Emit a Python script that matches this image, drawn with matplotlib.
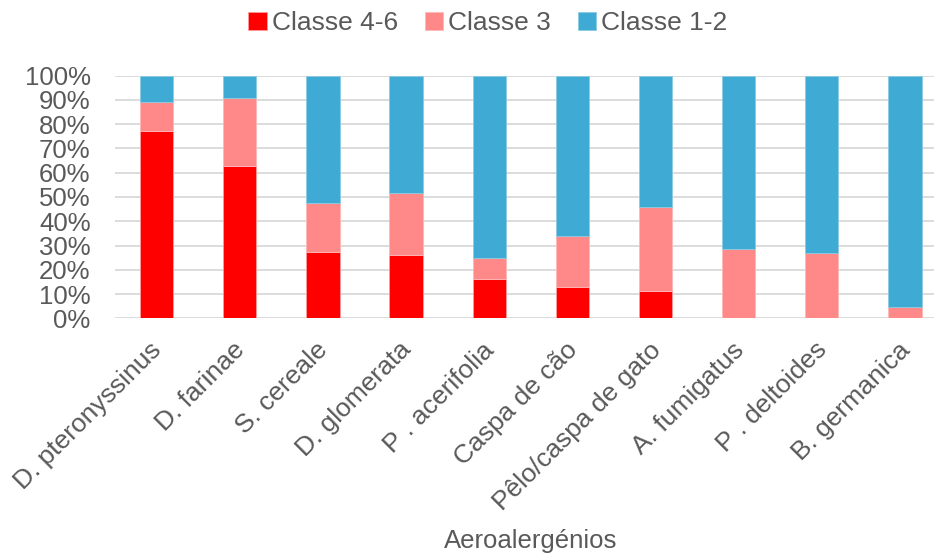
import numpy as np
import matplotlib.pyplot as plt
import matplotlib.transforms as mtransforms
from matplotlib.ticker import FuncFormatter

plt.rcParams['font.family'] = ['Liberation Sans', 'DejaVu Sans']

alergenios = ["D. pteronyssinus", "D. farinae", "S. cereale", "D. glomerata",
              "P . acerifolia", "Caspa de cão", "Pêlo/caspa de gato",
              "A. fumigatus", "P . deltoides", "B. germanica"]
classe_4_6 = [77.2, 62.8, 27.3, 26.2, 16.3, 12.8, 11.3, 0.0, 0.0, 0.0]
classe_3 = [12.1, 28.0, 20.1, 25.6, 8.4, 21.3, 34.7, 28.4, 27.1, 4.5]
classe_1_2 = [100 - a - b for a, b in zip(classe_4_6, classe_3)]

grey = "#595959"
fig = plt.figure(figsize=(9.34, 5.55), dpi=100)
ax = fig.add_axes([0.1231, 0.4265, 0.8904, 0.4371])

x = np.arange(len(alergenios))
w = 0.4
b1 = ax.bar(x, classe_4_6, w, color="#FF0000", edgecolor="#ff9a9a", linewidth=0.6,
            label="Classe 4-6", zorder=3)
b2 = ax.bar(x, classe_3, w, bottom=classe_4_6, color="#FF8989", edgecolor="#ffb8b8",
            linewidth=0.6, label="Classe 3", zorder=3)
bottom3 = [a + b for a, b in zip(classe_4_6, classe_3)]
b3 = ax.bar(x, classe_1_2, w, bottom=bottom3, color="#3FAAD3", edgecolor="#8ccbe3",
            linewidth=0.6, label="Classe 1-2", zorder=3)

ax.set_xlim(-0.5, len(alergenios) - 0.5)
ax.set_ylim(0, 100)
ax.set_yticks(np.arange(0, 101, 10))
ax.yaxis.set_major_formatter(FuncFormatter(lambda v, p: f"{v:.0f}%"))
ax.grid(axis="y", color="#d9d9d9", linewidth=1.3, zorder=0)
for s in ax.spines.values():
    s.set_visible(False)
ax.tick_params(axis="both", length=0, labelsize=18.5, labelcolor=grey)
ax.tick_params(axis="y", pad=17.5)

ax.set_xticks(x)
ax.set_xticklabels(alergenios, rotation=45, ha="right", va="top",
                   rotation_mode="anchor", fontsize=19)
ax.tick_params(axis="x", pad=14)
shift = mtransforms.ScaledTranslation(-5 / 72, 0, fig.dpi_scale_trans)
for lbl in ax.get_xticklabels():
    lbl.set_transform(lbl.get_transform() + shift)

# axis title sits near the bottom edge, centred under the plot area
ax.set_xlabel("Aeroalergénios", fontsize=18.5, color=grey)
ax.xaxis.label.set_verticalalignment("center")
ax.xaxis.set_label_coords(0.5, -0.918)

fig.legend(handles=[b1, b2, b3], loc="center", bbox_to_anchor=(0.5225, 0.958),
           ncol=3, frameon=False, fontsize=19, labelcolor=grey,
           handlelength=0.7, handleheight=0.7, handletextpad=0.2,
           columnspacing=1.0)

fig.savefig("out.png", dpi=100)
